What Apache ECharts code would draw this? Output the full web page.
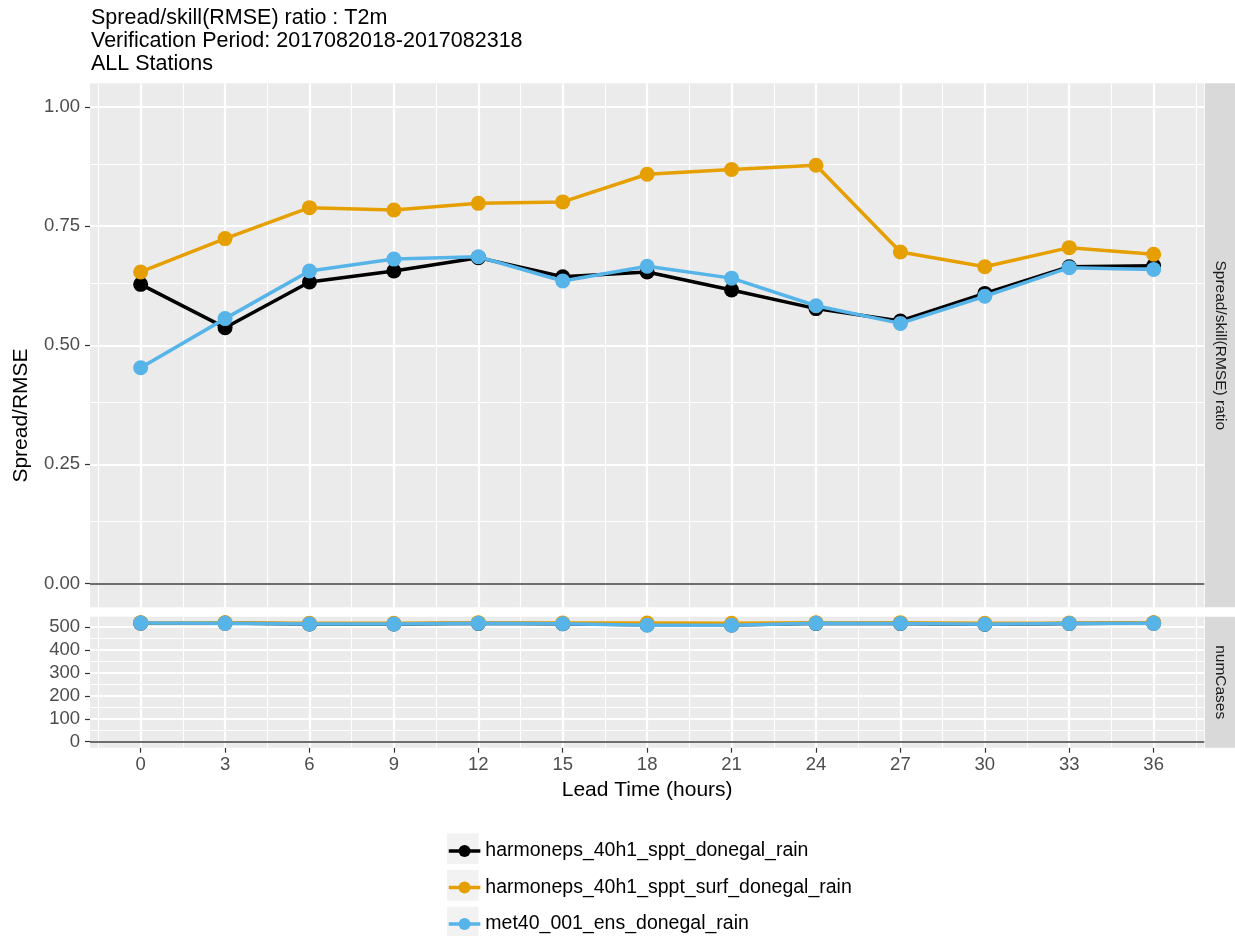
<!DOCTYPE html>
<html><head><meta charset="utf-8">
<script src="https://cdn.jsdelivr.net/npm/echarts@6/dist/echarts.min.js"></script>
<style>html,body{margin:0;padding:0;background:#fff}#c{width:1235px;height:936px}</style>
</head><body><div id="c"></div><script>
// ---- data ----
const leadTimes = [0, 3, 6, 9, 12, 15, 18, 21, 24, 27, 30, 33, 36];
const seriesNames = ['harmoneps_40h1_sppt_donegal_rain', 'harmoneps_40h1_sppt_surf_donegal_rain', 'met40_001_ens_donegal_rain'];
const seriesColors = ['#000000', '#E69F00', '#56B4E9'];
const ratioSppt     = [0.628, 0.537, 0.633, 0.656, 0.684, 0.644, 0.654, 0.616, 0.577, 0.551, 0.609, 0.665, 0.667];
const ratioSpptSurf = [0.654, 0.724, 0.789, 0.784, 0.798, 0.801, 0.859, 0.869, 0.878, 0.696, 0.665, 0.705, 0.691];
const ratioMet40    = [0.453, 0.556, 0.656, 0.681, 0.686, 0.635, 0.666, 0.641, 0.583, 0.546, 0.603, 0.663, 0.659];
const casesSppt     = [518, 518, 514, 514, 517, 515, 511, 510, 517, 516, 513, 516, 518];
const casesSpptSurf = [520, 520, 517, 517, 520, 518, 518, 517, 520, 520, 517, 518, 520];
const casesMet40    = [518, 517, 514, 514, 517, 515, 509, 509, 517, 516, 513, 516, 517];
const xTicks = [0, 3, 6, 9, 12, 15, 18, 21, 24, 27, 30, 33, 36];
const xMinor = [-1.5, 1.5, 4.5, 7.5, 10.5, 13.5, 16.5, 19.5, 22.5, 25.5, 28.5, 31.5, 34.5, 37.5];
const yTopTicks = [0, 0.25, 0.5, 0.75, 1.0];
const yTopMinor = [0.125, 0.375, 0.625, 0.875];
const yBotTicks = [0, 100, 200, 300, 400, 500];
const yBotMinor = [50, 150, 250, 350, 450];
const titleLines = ['Spread/skill(RMSE) ratio : T2m', 'Verification Period: 2017082018-2017082318', 'ALL Stations'];
const stripLabels = ['Spread/skill(RMSE) ratio', 'numCases'];
const xTitle = 'Lead Time (hours)';
const yTitle = 'Spread/RMSE';

// ---- layout ----
const FONT = 'Liberation Sans, Arial, sans-serif';
const L = 90, R = 1204.3;
const top1 = 83.3, bot1 = 607.3, top2 = 616.7, bot2 = 747.7;
const ratioSets = [ratioSppt, ratioSpptSurf, ratioMet40];
const caseSets = [casesSppt, casesSpptSurf, casesMet40];

function gridLines(gi) {
  const d = [];
  xMinor.forEach(v => d.push({xAxis: v, lineStyle: {color: '#fff', width: 1.1, type: 'solid'}}));
  xTicks.forEach(v => d.push({xAxis: v, lineStyle: {color: '#fff', width: 2.2, type: 'solid'}}));
  const minor = gi === 0 ? yTopMinor : yBotMinor;
  const major = gi === 0 ? yTopTicks : yBotTicks;
  minor.forEach(v => d.push({yAxis: v, lineStyle: {color: '#fff', width: 1.1, type: 'solid'}}));
  major.forEach(v => d.push({yAxis: v, lineStyle: {color: '#fff', width: 2.2, type: 'solid'}}));
  d.push({yAxis: 0, lineStyle: {color: '#6e6e6e', width: 1.8, type: 'solid'}});
  return d;
}

const series = [];
[0, 1].forEach(gi => {
  series.push({
    name: '_grid' + gi, type: 'line', xAxisIndex: gi, yAxisIndex: gi, data: [], z: 1, silent: true,
    markLine: {z: 1, silent: true, symbol: ['none', 'none'], label: {show: false}, animation: false, emphasis: {disabled: true}, data: gridLines(gi)}
  });
});
[0, 1].forEach(gi => {
  const sets = gi === 0 ? ratioSets : caseSets;
  seriesNames.forEach((nm, k) => {
    series.push({
      name: nm, type: 'line', xAxisIndex: gi, yAxisIndex: gi, z: 3 + k,
      data: leadTimes.map((t, i) => [t, sets[k][i]]),
      symbol: 'circle', symbolSize: 15, showSymbol: true,
      lineStyle: {color: seriesColors[k], width: 3.5},
      itemStyle: {color: seriesColors[k], borderWidth: 0},
      emphasis: {disabled: true}, animation: false
    });
  });
});

const tickStyle = {color: '#333333', width: 1.2};
const hiddenLine = {show: true, onZero: false, lineStyle: {color: 'rgba(0,0,0,0)', width: 0}};
const option = {
  animation: false,
  backgroundColor: '#ffffff',
  title: {
    text: titleLines.join('\n'), left: 91, top: 7, padding: 0,
    textStyle: {fontFamily: FONT, fontSize: 21.5, lineHeight: 23, fontWeight: 'normal', color: '#000'}
  },
  grid: [
    {left: L, top: top1, width: R - L, height: bot1 - top1, show: true, backgroundColor: '#ebebeb', borderWidth: 0, containLabel: false},
    {left: L, top: top2, width: R - L, height: bot2 - top2, show: true, backgroundColor: '#ebebeb', borderWidth: 0, containLabel: false}
  ],
  xAxis: [
    {gridIndex: 0, type: 'value', min: -1.8, max: 37.8, axisLine: {show: false, onZero: false}, axisTick: {show: false}, axisLabel: {show: false}, splitLine: {show: false}},
    {gridIndex: 1, type: 'value', min: -1.8, max: 37.8, position: 'bottom', axisLine: hiddenLine,
     axisTick: {show: true, customValues: xTicks, length: 5, lineStyle: tickStyle},
     axisLabel: {show: true, customValues: xTicks, color: '#4d4d4d', fontSize: 18.5, fontFamily: FONT, margin: 8},
     splitLine: {show: false},
     name: xTitle, nameLocation: 'middle', nameGap: 32,
     nameTextStyle: {fontFamily: FONT, fontSize: 21, color: '#000', verticalAlign: 'top'}}
  ],
  yAxis: [
    {gridIndex: 0, type: 'value', min: -0.05, max: 1.05, position: 'left', axisLine: hiddenLine,
     axisTick: {show: true, customValues: yTopTicks, length: 5, lineStyle: tickStyle},
     axisLabel: {show: true, customValues: yTopTicks, formatter: v => v.toFixed(2), color: '#4d4d4d', fontSize: 18.5, fontFamily: FONT, margin: 10},
     splitLine: {show: false}},
    {gridIndex: 1, type: 'value', min: -26, max: 546, position: 'left', axisLine: hiddenLine,
     axisTick: {show: true, customValues: yBotTicks, length: 5, lineStyle: tickStyle},
     axisLabel: {show: true, customValues: yBotTicks, color: '#4d4d4d', fontSize: 18.5, fontFamily: FONT, margin: 10},
     splitLine: {show: false}}
  ],
  legend: {
    data: seriesNames, orient: 'vertical', left: 447, top: 841, padding: 0,
    itemWidth: 31.6, itemHeight: 15, itemGap: 16.5, z: 10,
    lineStyle: {width: 3.5},
    textStyle: {fontFamily: FONT, fontSize: 19.5, color: '#000', lineHeight: 20},
    selectedMode: false
  },
  graphic: [
    {type: 'rect', z: 0, shape: {x: R + 0.7, y: top1, width: 1235 - R, height: bot1 - top1}, style: {fill: '#d9d9d9'}},
    {type: 'rect', z: 0, shape: {x: R + 0.7, y: top2, width: 1235 - R, height: bot2 - top2}, style: {fill: '#d9d9d9'}},
    {type: 'text', z: 5, x: 1220, y: (top1 + bot1) / 2, rotation: -Math.PI / 2,
     style: {text: stripLabels[0], fontFamily: FONT, fontSize: 15.5, fill: '#1a1a1a', align: 'center', verticalAlign: 'middle'}},
    {type: 'text', z: 5, x: 1220, y: (top2 + bot2) / 2, rotation: -Math.PI / 2,
     style: {text: stripLabels[1], fontFamily: FONT, fontSize: 15.5, fill: '#1a1a1a', align: 'center', verticalAlign: 'middle'}},
    {type: 'text', z: 5, x: 21.7, y: (top1 + bot2) / 2, rotation: Math.PI / 2,
     style: {text: yTitle, fontFamily: FONT, fontSize: 21, fill: '#000', align: 'center', verticalAlign: 'middle'}},
    {type: 'rect', z: 0, shape: {x: 447, y: 833.3, width: 31.6, height: 30.7}, style: {fill: '#f2f2f2'}},
    {type: 'rect', z: 0, shape: {x: 447, y: 870, width: 31.6, height: 30.7}, style: {fill: '#f2f2f2'}},
    {type: 'rect', z: 0, shape: {x: 447, y: 906.7, width: 31.6, height: 30.7}, style: {fill: '#f2f2f2'}}
  ],
  series: series
};
const chart = echarts.init(document.getElementById('c'), null, {renderer: 'canvas'});
chart.setOption(option);
</script></body></html>
